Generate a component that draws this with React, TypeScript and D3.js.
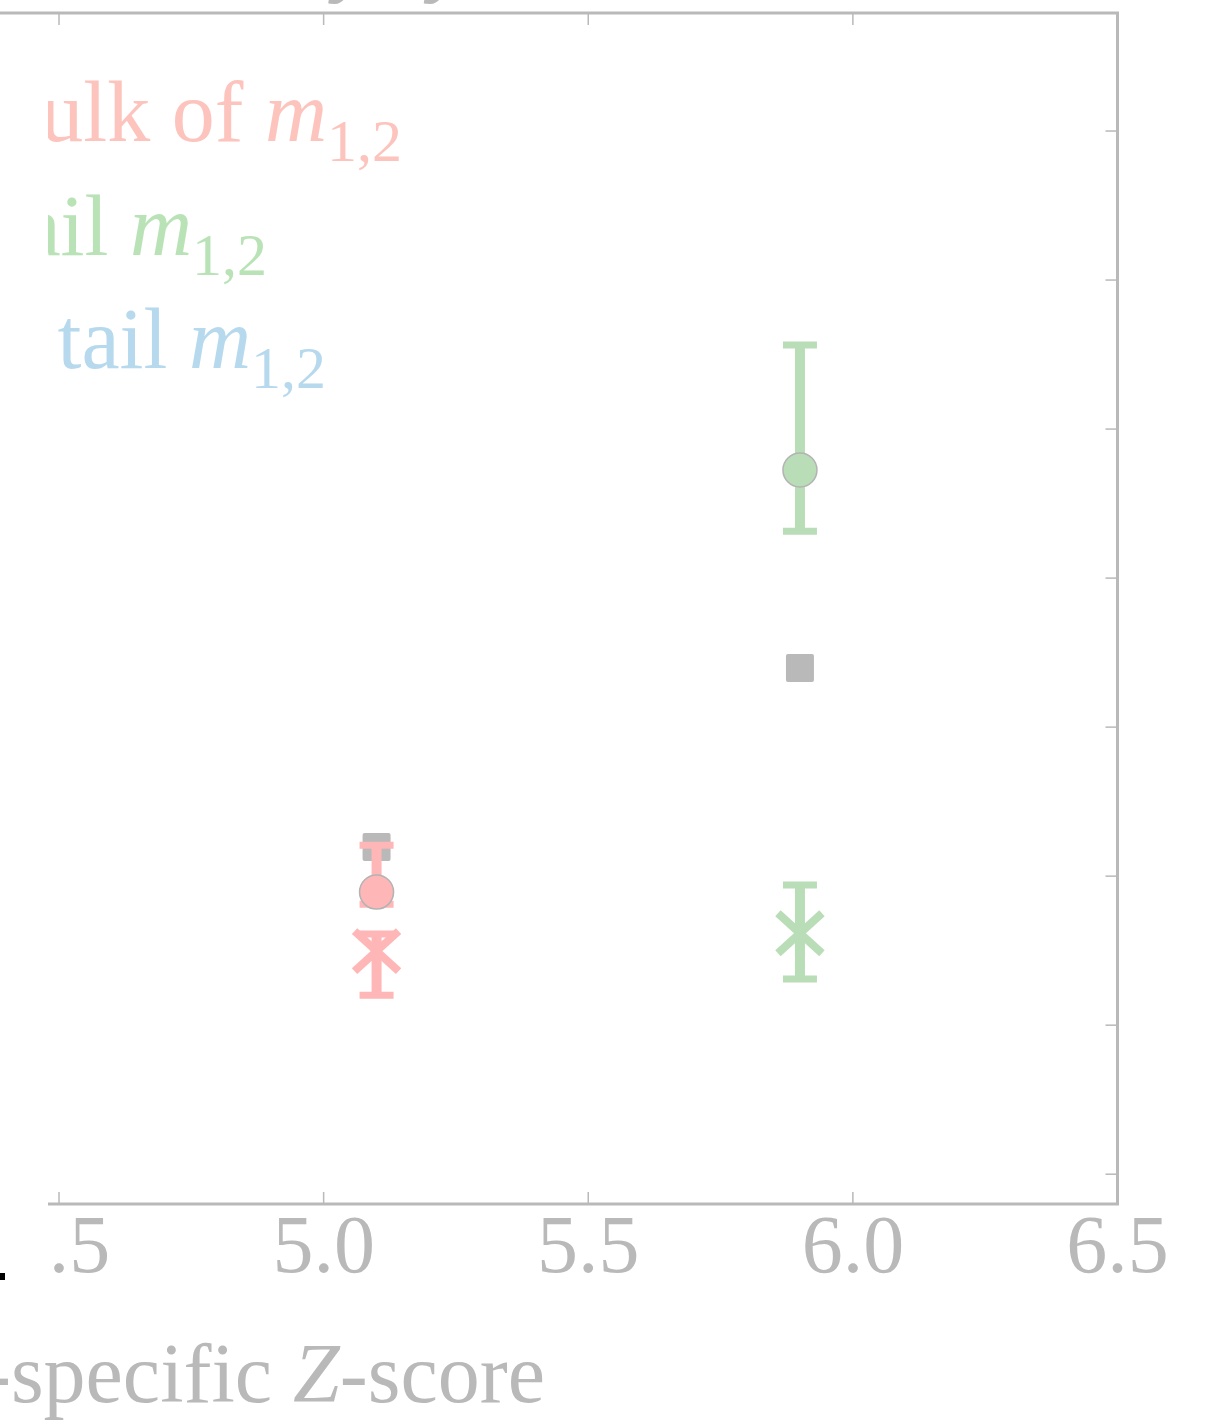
import React from "react";
import * as d3 from "d3";

// ---- data ----
const xTicks = [4.5, 5.0, 5.5, 6.0, 6.5];
const yTicks = [0, 1, 2, 3, 4, 5, 6, 7];

// gray reference squares (no error bars)
const refX = [5.1, 5.9];
const refY = [2.195, 3.396];

// circles: x, value, upper, lower
const circleX = [5.1, 5.9];
const circleY = [1.893, 4.725];
const circleHi = [2.208, 5.564];
const circleLo = [1.812, 4.315];
const circleColor = ["#ffb6b6", "#b9ddb7"];

// crosses
const crossX = [5.1, 5.9];
const crossY = [1.497, 1.617];
const crossHi = [1.611, 1.94];
const crossLo = [1.201, 1.309];
const crossColor = ["#ffb6b6", "#b9ddb7"];

const legendLabels = ["Bulk of", "Left tail", "Right tail"];
const legendColors = ["#fcc4bd", "#b9e3b6", "#b7d9ee"];

const W = 1224;
const H = 1421;
const FONT = "'Liberation Serif', 'Times New Roman', serif";
const GRAY = "#b9b9b9";

export default function App() {
  const x = d3.scaleLinear().domain([4.38, 6.5]).range([-4.5, 1117.5]);
  const y = d3.scaleLinear().domain([-0.2, 7.792]).range([1204, 13]);
  const x0 = x.range()[0];
  const x1 = x.range()[1];
  const yTop = y.range()[1];
  const yBot = y.range()[0];
  const tickLen = 12;
  const capHalf = 17;

  const errorBar = (cx: number, hi: number, lo: number, color: string) => (
    <g>
      <line x1={x(cx)} x2={x(cx)} y1={y(hi)} y2={y(lo)} stroke={color} strokeWidth={10} />
      <line x1={x(cx) - capHalf} x2={x(cx) + capHalf} y1={y(hi)} y2={y(hi)} stroke={color} strokeWidth={7} />
      <line x1={x(cx) - capHalf} x2={x(cx) + capHalf} y1={y(lo)} y2={y(lo)} stroke={color} strokeWidth={7} />
    </g>
  );

  const legendRight = [402, 267, 326];
  const legendBase = [141, 255, 368];

  return (
    <svg width={W} height={H} style={{ position: "absolute", left: 0, top: 0 }} fontFamily={FONT}>
      <rect x={0} y={0} width={W} height={H} fill="#fff" />
      {/* title, mostly above the visible area */}
      <text x={365} y={-13} textAnchor="middle" fontSize={80} fontStyle="italic" fontWeight="bold" fill={GRAY}>
        Validity by Sex
      </text>

      {/* ticks */}
      {xTicks.map((t) => (
        <g key={"xt" + t}>
          <line x1={x(t)} x2={x(t)} y1={yTop} y2={yTop + tickLen} stroke={GRAY} strokeWidth={1.5} />
          <line x1={x(t)} x2={x(t)} y1={yBot} y2={yBot - tickLen} stroke={GRAY} strokeWidth={1.5} />
        </g>
      ))}
      {yTicks.map((t) => (
        <g key={"yt" + t}>
          <line x1={x1} x2={x1 - tickLen} y1={y(t)} y2={y(t)} stroke={GRAY} strokeWidth={1.5} />
          <line x1={x0} x2={x0 + tickLen} y1={y(t)} y2={y(t)} stroke={GRAY} strokeWidth={1.5} />
        </g>
      ))}

      {/* reference squares */}
      {refX.map((v, i) => (
        <rect key={"sq" + i} x={x(v) - 14} y={y(refY[i]) - 14} width={28} height={28} rx={2} fill={GRAY} />
      ))}

      {/* circles with error bars */}
      {circleX.map((v, i) => (
        <g key={"c" + i}>
          {errorBar(v, circleHi[i], circleLo[i], circleColor[i])}
          <circle cx={x(v)} cy={y(circleY[i])} r={17} fill={circleColor[i]} stroke="#b3b3b3" strokeWidth={1.5} />
        </g>
      ))}

      {/* crosses with error bars */}
      {crossX.map((v, i) => (
        <g key={"x" + i}>
          {errorBar(v, crossHi[i], crossLo[i], crossColor[i])}
          <g transform={`translate(${x(v)},${y(crossY[i])})`} stroke={crossColor[i]} strokeWidth={8}>
            <line x1={-22} y1={-20} x2={22} y2={20} />
            <line x1={-22} y1={20} x2={22} y2={-20} />
          </g>
        </g>
      ))}

      {/* spines */}
      <rect x={x0} y={yTop} width={x1 - x0} height={yBot - yTop} fill="none" stroke={GRAY} strokeWidth={3} />

      {/* legend */}
      {legendLabels.map((lab, i) => (
        <text key={"lg" + i} x={legendRight[i]} y={legendBase[i]} textAnchor="end" fontSize={86} fill={legendColors[i]}>
          {lab + " "}
          <tspan fontStyle="italic">m</tspan>
          <tspan fontSize={60} dy={20}>1,2</tspan>
        </text>
      ))}

      {/* tick labels */}
      {xTicks.map((t) => (
        <text key={"xl" + t} x={x(t)} y={1272} textAnchor="middle" fontSize={82} fill={GRAY}>
          {d3.format(".1f")(t)}
        </text>
      ))}

      {/* neighbouring panel covering the left edge */}
      <rect x={0} y={16} width={48} height={1276} fill="#fff" />
      <rect x={0} y={1273} width={5} height={7} fill="#000" />

      {/* x label */}
      <text x={545} y={1402} textAnchor="end" fontSize={84} fill={GRAY}>
        Age-specific <tspan fontStyle="italic">Z</tspan>-score
      </text>
    </svg>
  );
}
